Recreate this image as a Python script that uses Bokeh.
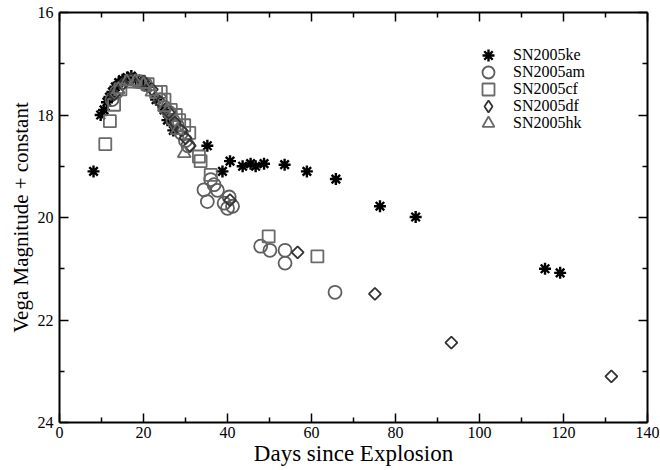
import numpy as np
from bokeh.plotting import figure
from bokeh.models import Range1d, FixedTicker, LinearAxis, Legend, LegendItem
from bokeh.embed import file_html
from bokeh.resources import INLINE

# ---- data ----
ke_day = [8.1, 9.8, 10.6, 11.3, 11.9, 12.6, 13.3, 14.1, 15.0, 16.1, 17.1, 18.2, 19.4,
          21.0, 23.0, 24.9, 25.7, 27.1, 35.2, 38.8, 40.6, 43.6, 45.5, 46.7, 48.7,
          53.6, 58.9, 65.8, 76.3, 84.8, 115.6, 119.2]
ke_mag = [19.1, 18.0, 17.9, 17.75, 17.65, 17.55, 17.45, 17.37, 17.31, 17.27, 17.24, 17.3, 17.37,
          17.45, 17.7, 17.9, 18.1, 18.3, 18.6, 19.1, 18.9, 19.0, 18.95, 19.0, 18.95,
          18.97, 19.1, 19.25, 19.78, 19.99, 21.0, 21.08]

am_day = [12.5, 13.6, 19.0, 20.5, 24.0, 25.0, 26.1, 27.0, 28.0, 29.0, 30.0, 30.6,
          34.4, 35.2, 36.0, 36.8, 37.6, 39.2, 40.0, 40.4, 41.2, 47.9, 50.1, 53.7, 53.7, 65.6]
am_mag = [17.7, 17.55, 17.35, 17.4, 17.7, 17.85, 17.95, 18.1, 18.2, 18.35, 18.5, 18.6,
          19.46, 19.69, 19.26, 19.36, 19.47, 19.72, 19.82, 19.6, 19.78, 20.56, 20.64, 20.64, 20.89, 21.46]

cf_day = [10.9, 12.0, 13.0, 14.5, 17.0, 19.0, 21.0, 23.0, 24.1, 25.0, 26.5, 27.7,
          28.5, 29.7, 30.9, 33.2, 33.6, 36.0, 49.8, 61.4]
cf_mag = [18.57, 18.12, 17.8, 17.5, 17.35, 17.35, 17.4, 17.55, 17.55, 17.7, 17.9, 18.0,
          18.1, 18.2, 18.35, 18.81, 18.9, 19.17, 20.37, 20.76]

df_day = [13.0, 15.0, 17.0, 20.0, 22.0, 24.0, 26.0, 27.5, 29.0, 30.0, 31.0, 40.6,
          56.7, 75.1, 93.3, 131.4]
df_mag = [17.6, 17.4, 17.3, 17.35, 17.5, 17.75, 17.95, 18.15, 18.3, 18.45, 18.6, 19.66,
          20.68, 21.49, 22.44, 23.1]

hk_day = [14.0, 16.0, 18.0, 20.0, 22.0, 25.0, 28.0, 29.7]
hk_mag = [17.5, 17.35, 17.35, 17.4, 17.55, 17.85, 18.3, 18.75]

x_ticks = [0, 20, 40, 60, 80, 100, 120, 140]
x_minor = [10, 30, 50, 70, 90, 110, 130]
y_ticks = [16, 18, 20, 22, 24]
y_minor = [17, 19, 21, 23]

SERIF = "Liberation Serif"

p = figure(frame_width=588, frame_height=410, output_backend="svg", toolbar_location=None,
           x_range=Range1d(0, 140), y_range=Range1d(24, 16),
           min_border_left=59, min_border_right=13, min_border_top=12, min_border_bottom=48)
p.outline_line_color = None
p.xgrid.visible = False
p.ygrid.visible = False
p.background_fill_color = "white"

r_ke = p.scatter(ke_day, ke_mag, marker="asterisk", size=12, line_color="black", line_width=2.4)
r_am = p.scatter(am_day, am_mag, marker="circle", size=13, fill_color=None,
                 line_color="#5e5e5e", line_width=1.8)
r_cf = p.scatter(cf_day, cf_mag, marker="square", size=12, fill_color=None,
                 line_color="#6a6a6a", line_width=1.8)
r_df = p.scatter(df_day, df_mag, marker="square", angle=np.pi / 4, size=8.5, fill_color=None,
                 line_color="#333333", line_width=1.8)
r_hk = p.scatter(hk_day, hk_mag, marker="triangle", size=13, fill_color=None,
                 line_color="#6a6a6a", line_width=1.8)
# zero-size twin of SN2005df used only to draw an upright diamond legend key
r_df_key = p.scatter(df_day, df_mag, marker="diamond", size=0, fill_color=None,
                     line_color="#333333", line_width=1.8)


def style_axis(ax, labels=True):
    ax.axis_line_width = 2
    ax.axis_line_color = "black"
    ax.major_tick_in = 9
    ax.major_tick_out = 0
    ax.minor_tick_in = 5
    ax.minor_tick_out = 0
    ax.major_tick_line_width = 1.5
    ax.minor_tick_line_width = 1.5
    ax.major_tick_line_color = "black"
    ax.minor_tick_line_color = "black"
    if labels:
        ax.major_label_text_font = SERIF
        ax.major_label_text_font_size = "16px"
        ax.major_label_text_color = "black"
    else:
        ax.major_label_text_font_size = "0px"
        ax.major_label_text_color = None
        ax.major_label_standoff = 0


xt = FixedTicker(ticks=x_ticks, minor_ticks=x_minor)
yt = FixedTicker(ticks=y_ticks, minor_ticks=y_minor)

p.xaxis.ticker = xt
p.yaxis.ticker = yt
style_axis(p.xaxis[0])
style_axis(p.yaxis[0])
p.xaxis.axis_label = "Days since Explosion"
p.yaxis.axis_label = "Vega Magnitude + constant"
for ax in (p.xaxis[0], p.yaxis[0]):
    ax.axis_label_text_font = SERIF
    ax.axis_label_text_font_style = "normal"
    ax.axis_label_text_color = "black"
p.xaxis.axis_label_text_font_size = "23px"
p.yaxis.axis_label_text_font_size = "21px"
p.xaxis.axis_label_standoff = 0
p.yaxis.axis_label_standoff = 2
p.xaxis.major_label_standoff = 4
p.yaxis.major_label_standoff = 6

top = LinearAxis(ticker=FixedTicker(ticks=x_ticks, minor_ticks=x_minor))
style_axis(top, labels=False)
p.add_layout(top, "above")
right = LinearAxis(ticker=FixedTicker(ticks=y_ticks, minor_ticks=y_minor))
style_axis(right, labels=False)
p.add_layout(right, "right")

legend_names = ["SN2005ke", "SN2005am", "SN2005cf", "SN2005df", "SN2005hk"]
legend_rends = [r_ke, r_am, r_cf, r_df_key, r_hk]
row_y = [352, 335, 318, 301, 284]   # one single-row legend per entry, 17 px apart
for name, rend, ly in zip(legend_names, legend_rends, row_y):
    lg = Legend(items=[LegendItem(label=name, renderers=[rend])], location=(414, ly))
    lg.border_line_color = None
    lg.background_fill_alpha = 0
    lg.padding = 0
    lg.margin = 0
    lg.spacing = 0
    lg.glyph_width = 30
    lg.glyph_height = 30
    lg.label_height = 30
    lg.label_standoff = 10
    lg.label_text_font = SERIF
    lg.label_text_font_size = "16px"
    lg.label_text_color = "black"
    lg.label_text_baseline = "middle"
    p.add_layout(lg)

open("out.html", "w").write(file_html(p, INLINE))
